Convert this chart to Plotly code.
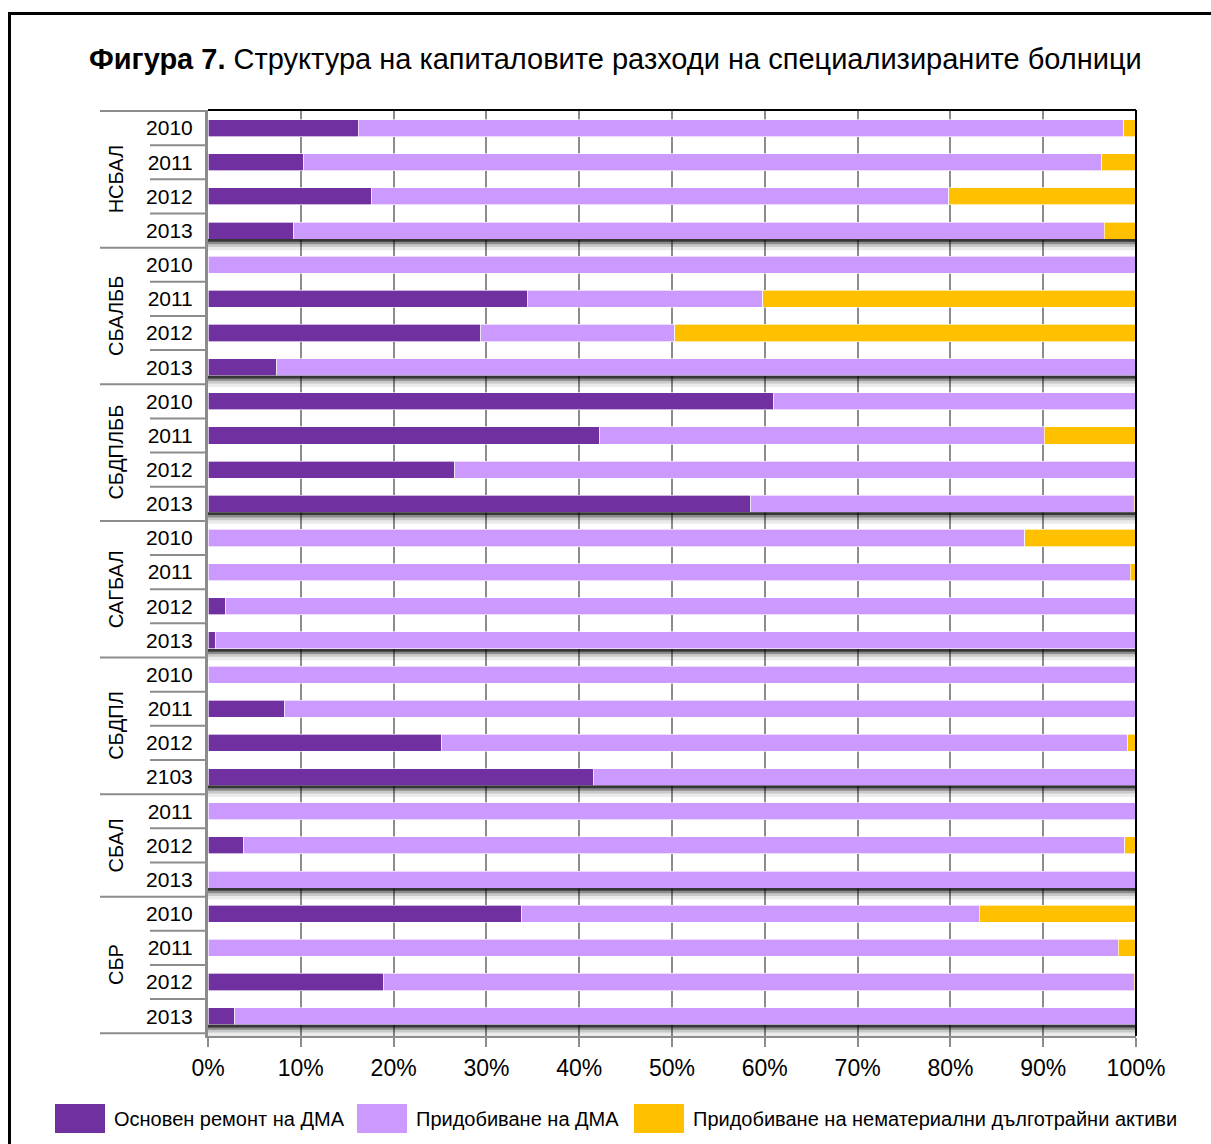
import plotly.graph_objects as go

# ---------------- data ----------------
groups = ["НСБАЛ", "СБАЛББ", "СБДПЛББ", "САГБАЛ", "СБДПЛ", "СБАЛ", "СБР"]
years = [
    ["2010", "2011", "2012", "2013"],
    ["2010", "2011", "2012", "2013"],
    ["2010", "2011", "2012", "2013"],
    ["2010", "2011", "2012", "2013"],
    ["2010", "2011", "2012", "2103"],
    ["2011", "2012", "2013"],
    ["2010", "2011", "2012", "2013"],
]
# Основен ремонт на ДМА (%)
repair = [16.2, 10.3, 17.6, 9.2,
          0.0, 34.4, 29.4, 7.4,
          60.9, 42.2, 26.6, 58.5,
          0.0, 0.0, 1.9, 0.8,
          0.0, 8.2, 25.2, 41.5,
          0.0, 3.8, 0.0,
          33.8, 0.0, 18.9, 2.9]
# Придобиване на ДМА (%)
acquisition = [82.5, 86.0, 62.2, 87.4,
               100.0, 25.4, 20.9, 92.6,
               39.1, 47.9, 73.4, 41.3,
               88.0, 99.4, 98.1, 99.2,
               100.0, 91.8, 73.9, 58.5,
               100.0, 95.0, 100.0,
               49.3, 98.1, 80.9, 97.1]
# Придобиване на нематериални дълготрайни активи (%)
intangible = [1.3, 3.7, 20.2, 3.4,
              0.0, 40.2, 49.7, 0.0,
              0.0, 9.9, 0.0, 0.2,
              12.0, 0.6, 0.0, 0.0,
              0.0, 0.0, 0.9, 0.0,
              0.0, 1.2, 0.0,
              16.9, 1.9, 0.2, 0.0]
series_names = ["Основен ремонт на ДМА", "Придобиване на ДМА",
                "Придобиване на нематериални дълготрайни активи"]
series_colors = ["#7030A0", "#CC99FF", "#FFC000"]
x_ticks = [0, 10, 20, 30, 40, 50, 60, 70, 80, 90, 100]
title_bold = "Фигура 7."
title_rest = "Структура на капиталовите разходи на специализираните болници"

# ---------------- layout helpers ----------------
W, H = 1211, 1144
ML, MR, MT, MB = 208, 75, 110, 108
PW, PH = W - ML - MR, H - MT - MB


def px(x):
    return (x - ML) / PW


def py(y):
    return (H - MB - y) / PH


REG = "Liberation Sans, Arial, sans-serif"

cats = [f"{g}|{y}" for g, ys in zip(groups, years) for y in ys]
ticktext = [y for ys in years for y in ys]

fig = go.Figure()
for name, color, vals in zip(series_names, series_colors, [repair, acquisition, intangible]):
    fig.add_trace(go.Bar(
        x=vals, y=cats, orientation="h", name=name,
        marker=dict(color=color, line=dict(color="rgba(255,255,255,0.8)", width=0.8)),
        showlegend=False,
    ))

shapes = []
annotations = []

# group boundaries
ends = []
c = 0
for ys in years:
    c += len(ys)
    ends.append(c)
starts = [0] + ends[:-1]
group_bounds = set([0] + ends)

# label-area divider lines
for b in range(len(cats) + 1):
    x0 = px(100) if b in group_bounds else px(150)
    shapes.append(dict(type="line", xref="paper", yref="y", x0=x0, x1=0,
                       y0=b - 0.5, y1=b - 0.5, line=dict(color="#8c8c8c", width=2)))

# shadows below last bar of each group
for e in ends:
    last = e - 1
    for depth, alpha in [(0.58, 0.08), (0.48, 0.15), (0.40, 0.3), (0.33, 0.6)]:
        shapes.append(dict(type="rect", xref="paper", yref="y", x0=0, x1=1,
                           y0=last + 0.25, y1=last + depth,
                           fillcolor=f"rgba(0,0,0,{alpha})",
                           line=dict(width=0), layer="above"))

# group labels
for g, s, e in zip(groups, starts, ends):
    annotations.append(dict(text=g, xref="paper", yref="y", x=px(116), y=(s + e - 1) / 2,
                            xanchor="center", yanchor="middle",
                            textangle=-90, showarrow=False,
                            font=dict(family=REG, size=20, color="#000000")))

# top and right black border of plot area
shapes.append(dict(type="line", xref="paper", yref="paper", x0=0, x1=1, y0=1, y1=1,
                   line=dict(color="#000000", width=2)))
shapes.append(dict(type="line", xref="paper", yref="paper", x0=1, x1=1, y0=0, y1=1,
                   line=dict(color="#000000", width=2)))

# outer frame
shapes.append(dict(type="rect", xref="paper", yref="paper",
                   x0=px(9.5), x1=px(1230), y0=py(1200), y1=py(13.5),
                   line=dict(color="#000000", width=3), fillcolor="rgba(0,0,0,0)"))

# title
annotations.append(dict(text=f"<b>{title_bold}</b> {title_rest}", xref="paper", yref="paper",
                        x=px(615), y=py(59), xanchor="center", yanchor="middle",
                        showarrow=False, font=dict(family=REG, size=29, color="#000000")))

# manual legend
legend_boxes = [55, 357, 634]
for bx, name, color in zip(legend_boxes, series_names, series_colors):
    shapes.append(dict(type="rect", xref="paper", yref="paper",
                       x0=px(bx), x1=px(bx + 50), y0=py(1133), y1=py(1104),
                       fillcolor=color, line=dict(width=0)))
    annotations.append(dict(text=name, xref="paper", yref="paper", x=px(bx + 57), y=py(1119),
                            xanchor="left", yanchor="middle", showarrow=False,
                            font=dict(family=REG, size=20, color="#000000")))

fig.update_layout(
    width=W, height=H,
    margin=dict(l=ML, r=MR, t=MT, b=MB, pad=0),
    barmode="stack", bargap=0.5,
    plot_bgcolor="#ffffff", paper_bgcolor="#ffffff",
    shapes=shapes, annotations=annotations,
    showlegend=False,
    xaxis=dict(range=[0, 100], tickvals=x_ticks, ticktext=[f"{v}%" for v in x_ticks],
               showgrid=True, gridcolor="#8c8c8c", gridwidth=2,
               showline=True, linecolor="#8c8c8c", linewidth=2,
               ticks="outside", ticklen=9, tickcolor="#8c8c8c", tickwidth=2,
               ticklabelstandoff=1, zeroline=False,
               tickfont=dict(family=REG, size=23, color="#000000")),
    yaxis=dict(type="category", categoryorder="array", categoryarray=cats,
               autorange="reversed", tickvals=cats, ticktext=ticktext,
               showgrid=False, showline=True, linecolor="#8c8c8c", linewidth=3,
               ticks="", ticklabelstandoff=8, zeroline=False,
               tickfont=dict(family=REG, size=21, color="#000000")),
)

fig.write_html("out.html", config={"displayModeBar": False},
               post_script="document.body.style.margin='0';")
